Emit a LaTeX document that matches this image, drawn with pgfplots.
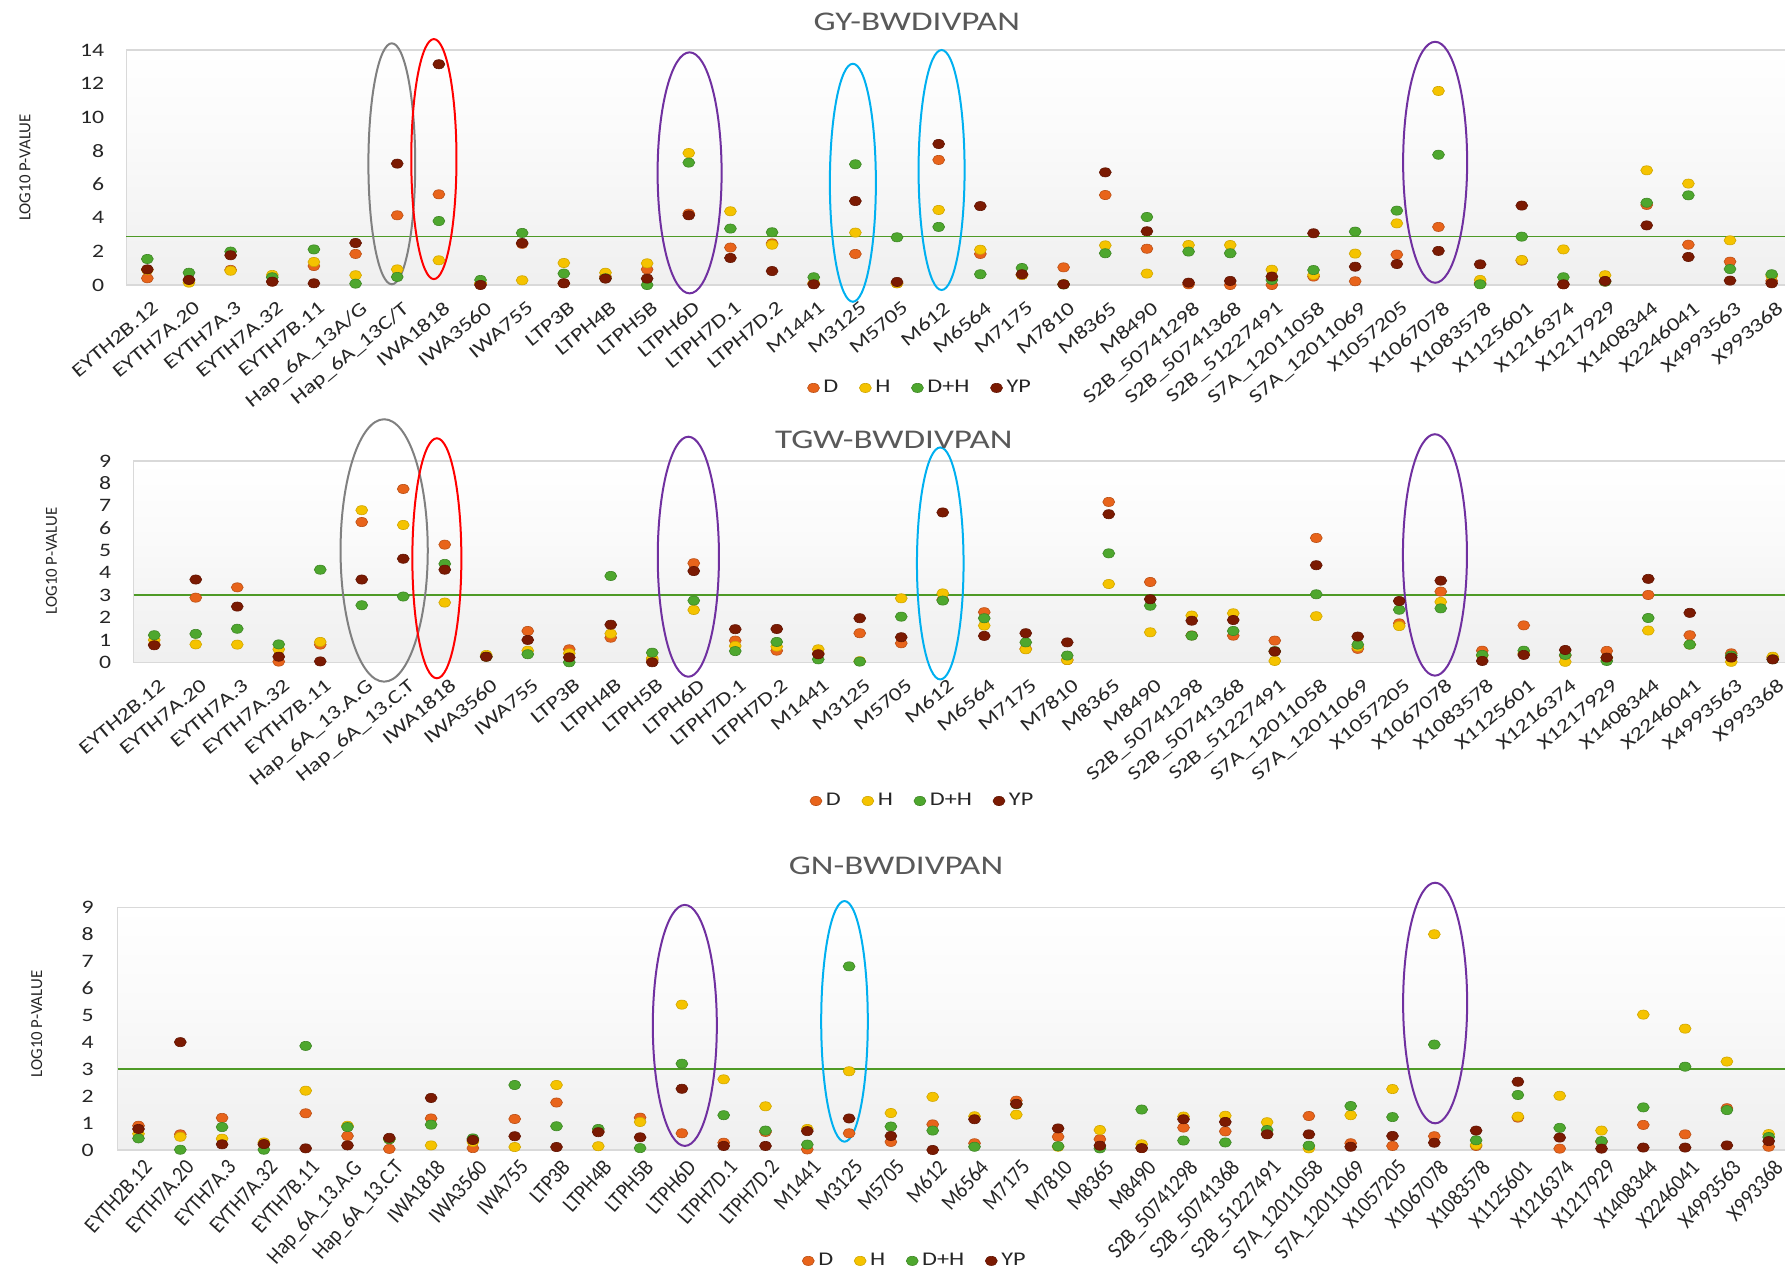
\documentclass[border=0pt]{standalone}
\usepackage{pgfplots}
\usepackage{pgfplotstable}
\pgfplotsset{compat=1.18}
\usepackage{fontspec}
\setmainfont{Carlito}[FakeStretch=1.25]
\newfontfamily\plainfont{Carlito}
\newfontfamily\condfont{Carlito}[FakeStretch=0.9]
\newfontfamily\titlefont{Carlito}[FakeStretch=1.3]

\definecolor{cD}{HTML}{E8641B}
\definecolor{cH}{HTML}{F5C300}
\definecolor{cDH}{HTML}{4EA72E}
\definecolor{cYP}{HTML}{7B1A02}
\definecolor{thr}{HTML}{4E9A26}
\definecolor{eGray}{HTML}{808080}
\definecolor{eRed}{HTML}{FF0000}
\definecolor{ePur}{HTML}{7030A0}
\definecolor{eBlue}{HTML}{00B0F0}
\definecolor{txt}{HTML}{595959}

\pgfdeclareverticalshading{plotbg}{100bp}{color(0bp)=(black!6); color(25bp)=(black!6); color(38bp)=(black!4.5); color(55bp)=(black!2); color(75bp)=(white); color(100bp)=(white)}

\pgfplotstableread{
x D H DH YP
0 0.40 0.90 1.55 0.93
1 0.30 0.14 0.73 0.30
2 0.90 0.85 1.99 1.77
3 0.20 0.60 0.46 0.20
4 1.13 1.37 2.12 0.10
5 1.85 0.58 0.08 2.50
6 4.15 0.93 0.48 7.23
7 5.40 1.47 3.81 13.15
8 0.10 0.10 0.30 0.00
9 2.45 0.28 3.10 2.50
10 0.10 1.31 0.68 0.10
11 0.50 0.73 0.40 0.38
12 0.93 1.29 0.00 0.38
13 4.25 7.86 7.29 4.15
14 2.23 4.39 3.36 1.61
15 2.48 2.40 3.14 0.83
16 0.10 0.10 0.46 0.04
17 1.85 3.12 7.19 5.00
18 0.10 0.10 2.84 0.18
19 7.45 4.47 3.46 8.40
20 1.85 2.10 0.64 4.70
21 0.60 0.60 1.01 0.64
22 1.05 0.05 0.03 0.04
23 5.36 2.36 1.89 6.71
24 2.16 0.68 4.05 3.20
25 0.04 2.38 1.99 0.14
26 0.00 2.38 1.89 0.24
27 0.00 0.91 0.30 0.50
28 0.50 0.60 0.89 3.08
29 0.22 1.87 3.18 1.09
30 1.81 3.67 4.43 1.25
31 3.46 11.56 7.76 2.03
32 0.10 0.30 0.04 1.23
33 1.45 1.49 2.88 4.73
34 0.04 2.12 0.46 0.04
35 0.20 0.58 0.20 0.24
36 4.77 6.83 4.90 3.55
37 2.40 6.04 5.34 1.67
38 1.39 2.66 0.95 0.26
39 0.24 0.54 0.64 0.10
}\gy

\pgfplotstableread{
x D H DH YP
0 0.80 1.00 1.21 0.76
1 2.89 0.80 1.27 3.70
2 3.35 0.79 1.50 2.49
3 0.03 0.58 0.80 0.25
4 0.79 0.91 4.14 0.04
5 6.27 6.80 2.55 3.70
6 7.75 6.14 2.94 4.63
7 5.26 2.67 4.40 4.14
8 0.25 0.33 0.25 0.25
9 1.40 0.52 0.36 1.00
10 0.58 0.40 0.00 0.22
11 1.10 1.28 3.86 1.68
12 0.10 0.18 0.43 0.00
13 4.43 2.34 2.76 4.08
14 0.97 0.73 0.50 1.48
15 0.52 0.70 0.91 1.49
16 0.40 0.58 0.13 0.36
17 1.30 0.05 0.03 1.97
18 0.85 2.86 2.04 1.12
19 2.80 3.08 2.76 6.70
20 2.24 1.64 1.97 1.18
21 0.60 0.58 0.89 1.30
22 0.10 0.10 0.30 0.89
23 7.17 3.50 4.87 6.62
24 3.59 1.34 2.53 2.82
25 1.20 2.09 1.19 1.86
26 1.19 2.19 1.40 1.89
27 0.97 0.06 0.50 0.48
28 5.56 2.06 3.04 4.34
29 0.60 0.70 0.79 1.15
30 1.74 1.62 2.35 2.74
31 3.16 2.70 2.41 3.65
32 0.52 0.30 0.33 0.06
33 1.65 0.40 0.52 0.33
34 0.30 0.02 0.33 0.55
35 0.51 0.20 0.06 0.21
36 3.01 1.42 1.98 3.73
37 1.21 0.79 0.79 2.21
38 0.40 0.02 0.30 0.21
39 0.20 0.25 0.13 0.13
}\tgw

\pgfplotstableread{
x D H DH YP
0 0.90 0.60 0.43 0.78
1 0.58 0.49 0.01 4.00
2 1.19 0.42 0.85 0.21
3 0.20 0.28 0.01 0.22
4 1.36 2.20 3.86 0.06
5 0.52 0.90 0.85 0.17
6 0.04 0.40 0.40 0.45
7 1.17 0.17 0.94 1.93
8 0.07 0.30 0.43 0.37
9 1.15 0.11 2.41 0.51
10 1.76 2.41 0.88 0.11
11 0.70 0.14 0.78 0.66
12 1.20 1.04 0.07 0.47
13 0.62 5.39 3.20 2.27
14 0.27 2.62 1.29 0.15
15 0.67 1.62 0.72 0.15
16 0.02 0.78 0.20 0.70
17 0.62 2.92 6.81 1.17
18 0.30 1.37 0.87 0.52
19 0.95 1.97 0.72 0.00
20 0.25 1.25 0.12 1.14
21 1.83 1.31 1.70 1.71
22 0.49 0.12 0.14 0.80
23 0.40 0.74 0.06 0.16
24 0.07 0.21 1.50 0.07
25 0.83 1.24 0.35 1.14
26 0.69 1.27 0.28 1.04
27 0.60 1.03 0.74 0.58
28 1.26 0.06 0.16 0.58
29 0.25 1.29 1.63 0.12
30 0.15 2.26 1.22 0.52
31 0.51 8.00 3.91 0.27
32 0.15 0.19 0.36 0.72
33 1.20 1.24 2.04 2.53
34 0.05 2.01 0.82 0.46
35 0.30 0.72 0.33 0.05
36 0.93 5.02 1.58 0.09
37 0.58 4.50 3.09 0.09
38 1.55 3.28 1.48 0.17
39 0.12 0.59 0.48 0.33
}\gn

\pgfplotsset{
  sD/.style={only marks, mark=*, mark size=2.3pt, mark options={xscale=1.3, fill=cD, draw=cD!80!black, line width=0.3pt}},
  sH/.style={only marks, mark=*, mark size=2.3pt, mark options={xscale=1.3, fill=cH, draw=cH!85!black, line width=0.3pt}},
  sDH/.style={only marks, mark=*, mark size=2.3pt, mark options={xscale=1.3, fill=cDH, draw=cDH!80!black, line width=0.3pt}},
  sYP/.style={only marks, mark=*, mark size=2.3pt, mark options={xscale=1.3, fill=cYP, draw=cYP!80!black, line width=0.3pt}},
  panel/.style={
    scale only axis, xmin=-0.5, xmax=39.5, ymin=0, clip=false,
    xtick={0,...,39}, major tick length=0pt,
    axis line style={draw=black!15, line width=0.6pt},
    axis background/.style={shading=plotbg},
    /pgf/number format/assume math mode=true,
    tick label style={text=black!85},
    yticklabel style={font=\fontsize{9.5}{10}\selectfont, anchor=east, inner sep=0pt, xshift=-11pt},
    legend style={draw=none, fill=none, legend columns=4, anchor=center,
      font=\fontsize{9.7}{11}\selectfont, text=black!85,
      /tikz/every even column/.append style={column sep=8.5pt}},
  },
  toplabels/.style={xticklabel style={font=\fontsize{9.6}{10}\selectfont, inner sep=0pt, xshift=2pt, yshift=-7.5pt, rotate=40, anchor=north east}},
}

\begin{document}
\begin{tikzpicture}
% ---------------- Panel 1 ----------------
\begin{axis}[panel, toplabels, at={(63.25pt,494pt)}, anchor=south west,
  width=833pt, height=117.5pt, ymax=14, ytick={0,2,...,14},
  xticklabels={EYTH2B.12, EYTH7A.20, EYTH7A.3, EYTH7A.32, EYTH7B.11, Hap\_6A\_13A/G, Hap\_6A\_13C/T, IWA1818, IWA3560, IWA755, LTP3B, LTPH4B, LTPH5B, LTPH6D, LTPH7D.1, LTPH7D.2, M1441, M3125, M5705, M612, M6564, M7175, M7810, M8365, M8490, S2B\_50741298, S2B\_50741368, S2B\_51227491, S7A\_12011058, S7A\_12011069, X1057205, X1067078, X1083578, X1125601, X1216374, X1217929, X1408344, X2246041, X4993563, X993368},
  legend style={at={(0.477,-0.438)}}]
\addplot[thr, line width=0.8pt, forget plot] coordinates {(-0.5,2.9) (39.5,2.9)};
\addplot[sD] table[x=x,y=D] {\gy};
\addplot[sH] table[x=x,y=H] {\gy};
\addplot[sDH] table[x=x,y=DH] {\gy};
\addplot[sYP] table[x=x,y=YP] {\gy};
\legend{D,H,D+H,YP}
\draw[eGray, line width=1pt] (axis cs:5.87,7.22) ellipse [x radius=11.7pt, y radius=60.25pt];
\draw[eRed, line width=1pt] (axis cs:6.88,7.5) ellipse [x radius=11.3pt, y radius=60pt];
\draw[ePur, line width=1pt] (axis cs:13.02,6.68) ellipse [x radius=16pt, y radius=60.25pt];
\draw[eBlue, line width=1pt] (axis cs:16.94,6.09) ellipse [x radius=11.5pt, y radius=59.5pt];
\draw[eBlue, line width=1pt] (axis cs:19.07,6.85) ellipse [x radius=11.5pt, y radius=60pt];
\draw[ePur, line width=1pt] (axis cs:30.92,7.31) ellipse [x radius=16pt, y radius=60.25pt];
\end{axis}

% ---------------- Panel 2 ----------------
\begin{axis}[panel, toplabels, at={(66.75pt,305.35pt)}, anchor=south west,
  width=830pt, height=100.65pt, ymax=9, ytick={0,1,...,9},
  xticklabels={EYTH2B.12, EYTH7A.20, EYTH7A.3, EYTH7A.32, EYTH7B.11, Hap\_6A\_13.A.G, Hap\_6A\_13.C.T, IWA1818, IWA3560, IWA755, LTP3B, LTPH4B, LTPH5B, LTPH6D, LTPH7D.1, LTPH7D.2, M1441, M3125, M5705, M612, M6564, M7175, M7810, M8365, M8490, S2B\_50741298, S2B\_50741368, S2B\_51227491, S7A\_12011058, S7A\_12011069, X1057205, X1067078, X1083578, X1125601, X1216374, X1217929, X1408344, X2246041, X4993563, X993368},
  legend style={at={(0.476,-0.689)}}]
\addplot[thr, line width=0.7pt, forget plot] coordinates {(-0.5,3) (39.5,3)};
\addplot[sD] table[x=x,y=D] {\tgw};
\addplot[sH] table[x=x,y=H] {\tgw};
\addplot[sDH] table[x=x,y=DH] {\tgw};
\addplot[sYP] table[x=x,y=YP] {\tgw};
\legend{D,H,D+H,YP}
\draw[eGray, line width=1pt] (axis cs:5.54,5.0) ellipse [x radius=21.8pt, y radius=65.6pt];
\draw[eRed, line width=1pt] (axis cs:6.81,4.65) ellipse [x radius=12.25pt, y radius=60pt];
\draw[ePur, line width=1pt] (axis cs:12.87,4.72) ellipse [x radius=15.3pt, y radius=60pt];
\draw[eBlue, line width=1pt] (axis cs:18.94,4.42) ellipse [x radius=11.65pt, y radius=58pt];
\draw[ePur, line width=1pt] (axis cs:30.86,4.8) ellipse [x radius=16pt, y radius=60.35pt];
\end{axis}

% ---------------- Panel 3 ----------------
\begin{axis}[panel, at={(58.8pt,61.5pt)}, anchor=south west,
  width=836pt, height=121.35pt, ymax=9, ytick={0,1,...,9},
  yticklabel style={xshift=-0.8pt},
  xticklabel style={font=\condfont\fontsize{11.2}{12}\selectfont, inner sep=0pt, xshift=2pt, yshift=-4pt, rotate=48, anchor=north east},
  xticklabels={EYTH2B.12, EYTH7A.20, EYTH7A.3, EYTH7A.32, EYTH7B.11, Hap\_6A\_13.A.G, Hap\_6A\_13.C.T, IWA1818, IWA3560, IWA755, LTP3B, LTPH4B, LTPH5B, LTPH6D, LTPH7D.1, LTPH7D.2, M1441, M3125, M5705, M612, M6564, M7175, M7810, M8365, M8490, S2B\_50741298, S2B\_50741368, S2B\_51227491, S7A\_12011058, S7A\_12011069, X1057205, X1067078, X1083578, X1125601, X1216374, X1217929, X1408344, X2246041, X4993563, X993368},
  legend style={at={(0.4775,-0.457)}}]
\addplot[thr, line width=0.7pt, forget plot] coordinates {(-0.5,3) (39.5,3)};
\addplot[sD] table[x=x,y=D] {\gn};
\addplot[sH] table[x=x,y=H] {\gn};
\addplot[sDH] table[x=x,y=DH] {\gn};
\addplot[sYP] table[x=x,y=YP] {\gn};
\legend{D,H,D+H,YP}
\draw[ePur, line width=1pt] (axis cs:13.07,4.62) ellipse [x radius=16pt, y radius=60.25pt];
\draw[eBlue, line width=1pt] (axis cs:16.89,4.77) ellipse [x radius=11.65pt, y radius=60.15pt];
\draw[ePur, line width=1pt] (axis cs:31.02,5.45) ellipse [x radius=16pt, y radius=60.15pt];
\end{axis}

% titles and axis labels
\node[font=\titlefont\fontsize{13.5}{15}\selectfont, text=txt] at (458.4pt,625.5pt) {GY-BWDIVPAN};
\node[font=\titlefont\fontsize{13.5}{15}\selectfont, text=txt] at (446.9pt,416.5pt) {TGW-BWDIVPAN};
\node[font=\titlefont\fontsize{13.5}{15}\selectfont, text=txt] at (448pt,203.5pt) {GN-BWDIVPAN};
\node[rotate=90, font=\plainfont\fontsize{8.4}{10}\selectfont, text=black!85] at (12.5pt,552.75pt) {LOG10 P-VALUE};
\node[rotate=90, font=\plainfont\fontsize{8.4}{10}\selectfont, text=black!85] at (25.75pt,356pt) {LOG10 P-VALUE};
\node[rotate=90, font=\plainfont\fontsize{8.4}{10}\selectfont, text=black!85] at (18.35pt,124.5pt) {LOG10 P-VALUE};

\pgfresetboundingbox
\path[use as bounding box] (0,0) rectangle (892.5pt,636.5pt);
\end{tikzpicture}
\end{document}
